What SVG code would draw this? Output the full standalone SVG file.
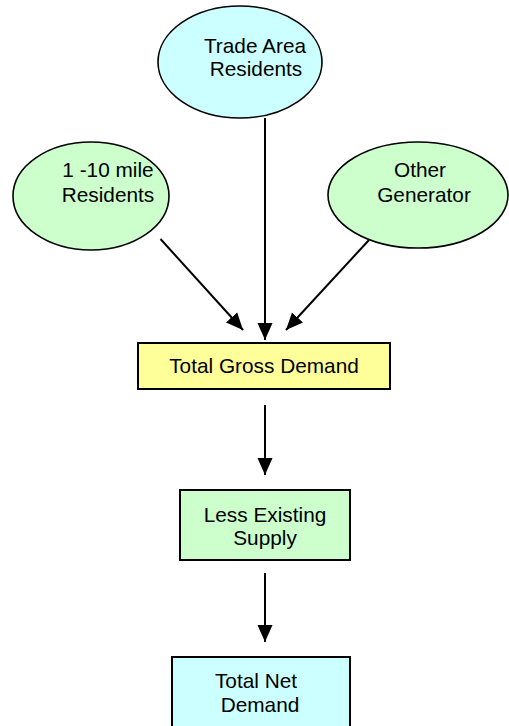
<svg xmlns="http://www.w3.org/2000/svg" width="509" height="726" viewBox="0 0 509 726">
  <style>
    .node-text { font-family: "Liberation Sans", Arial, sans-serif; font-size: 20.8px; fill: #000; text-anchor: middle; }
    .shape { stroke: #000; stroke-width: 1.6; }
    .box { stroke: #000; stroke-width: 2; }
    .cyan { fill: #CCFFFF; }
    .green { fill: #CCFFCC; }
    .yellow { fill: #FFFF99; }
    .link { stroke: #000; stroke-width: 2; fill: none; marker-end: url(#arrow); }
  </style>
  <defs>
    <marker id="arrow" markerUnits="userSpaceOnUse" markerWidth="17" markerHeight="16" viewBox="0 0 17 16" refX="17" refY="8" orient="auto">
      <path d="M0,0.5 L17,8 L0,15.5 Z" fill="#000"/>
    </marker>
  </defs>
  <rect width="509" height="726" fill="#fff"/>

  <g id="connectors">
    <line class="link" x1="265" y1="118" x2="265" y2="340"/>
    <line class="link" x1="160.5" y1="239" x2="243" y2="330"/>
    <line class="link" x1="369" y1="240" x2="286" y2="330"/>
    <line class="link" x1="265" y1="405" x2="265" y2="475"/>
    <line class="link" x1="265" y1="573" x2="265" y2="642"/>
  </g>

  <g id="trade-area-residents">
    <ellipse class="shape cyan" cx="240" cy="62" rx="82" ry="56"/>
    <text class="node-text" x="255" y="53">Trade Area</text>
    <text class="node-text" x="256" y="76">Residents</text>
  </g>

  <g id="mile-residents">
    <ellipse class="shape green" cx="91" cy="196" rx="78" ry="54"/>
    <text class="node-text" x="108" y="177">1 -10 mile</text>
    <text class="node-text" x="108" y="202">Residents</text>
  </g>

  <g id="other-generator">
    <ellipse class="shape green" cx="418" cy="195" rx="90" ry="53"/>
    <text class="node-text" x="420" y="177">Other</text>
    <text class="node-text" x="424" y="202">Generator</text>
  </g>

  <g id="total-gross-demand">
    <rect class="box yellow" x="138" y="343" width="252" height="46"/>
    <text class="node-text" x="264" y="373">Total Gross Demand</text>
  </g>

  <g id="less-existing-supply">
    <rect class="box green" x="180" y="490" width="170" height="70"/>
    <text class="node-text" x="265" y="522">Less Existing</text>
    <text class="node-text" x="265" y="545">Supply</text>
  </g>

  <g id="total-net-demand">
    <rect class="box cyan" x="172" y="657" width="178" height="80"/>
    <text class="node-text" x="256" y="688">Total Net</text>
    <text class="node-text" x="260" y="712">Demand</text>
  </g>
</svg>
